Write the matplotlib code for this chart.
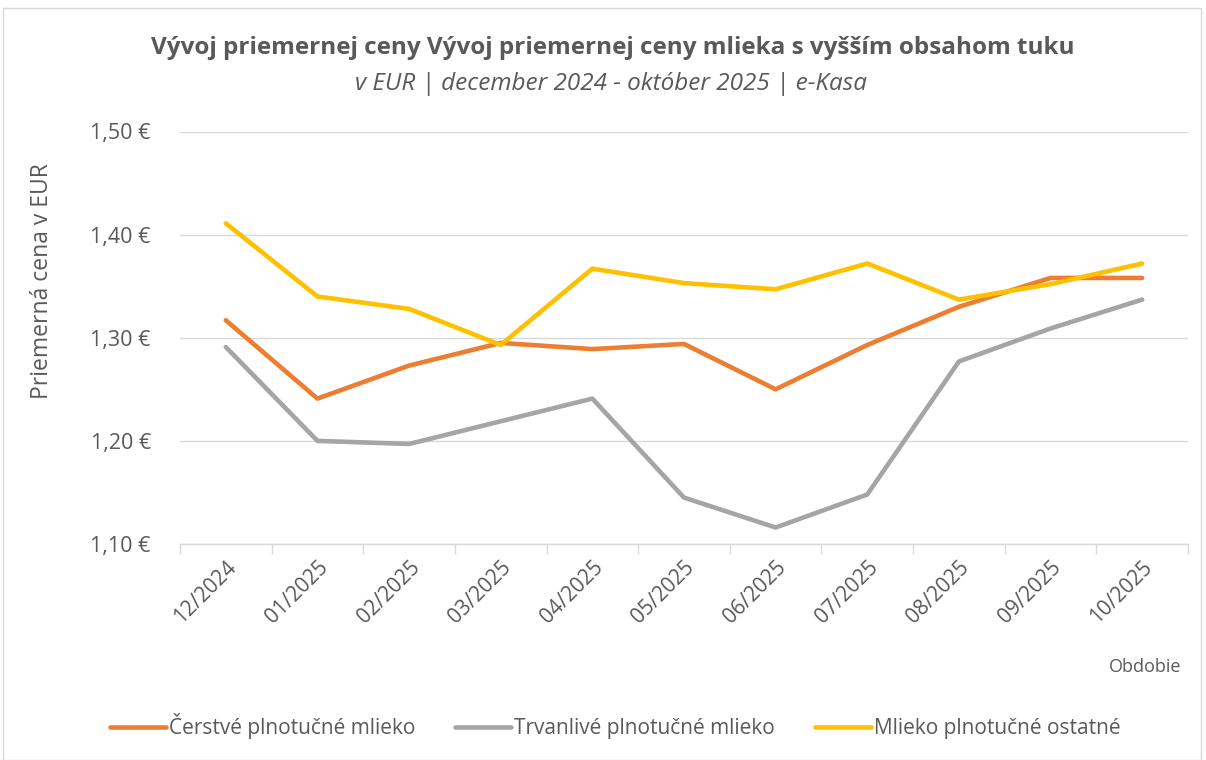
import matplotlib.pyplot as plt
from matplotlib.patches import Rectangle
from matplotlib.ticker import FuncFormatter

plt.rcParams['font.family'] = ['Open Sans', 'DejaVu Sans']

months = ['12/2024', '01/2025', '02/2025', '03/2025', '04/2025', '05/2025',
          '06/2025', '07/2025', '08/2025', '09/2025', '10/2025']
cerstve = [1.317, 1.241, 1.273, 1.295, 1.289, 1.294, 1.250, 1.293, 1.330, 1.358, 1.358]
trvanlive = [1.291, 1.200, 1.197, 1.219, 1.241, 1.145, 1.116, 1.148, 1.277, 1.309, 1.337]
ostatne = [1.411, 1.340, 1.328, 1.293, 1.367, 1.353, 1.347, 1.372, 1.337, 1.352, 1.372]

series_names = ['Čerstvé plnotučné mlieko', 'Trvanlivé plnotučné mlieko', 'Mlieko plnotučné ostatné']
colors = ['#ED7D31', '#A5A5A5', '#FFC000']
text_color = '#595959'

fig = plt.figure(figsize=(12.06, 7.6), dpi=100)
ax = fig.add_axes([180 / 1206, 1 - 544 / 760, 1008 / 1206, (544 - 131.5) / 760])

# outer chart border
fig.patches.append(Rectangle((3 / 1206, 0), 1198 / 1206, 1 - 8 / 760, transform=fig.transFigure,
                             fill=False, edgecolor='#D9D9D9', linewidth=1))

x = range(len(months))
lines = []
for vals, name, c in zip([cerstve, trvanlive, ostatne], series_names, colors):
    ln, = ax.plot(x, vals, color=c, linewidth=3.3, solid_capstyle='round', solid_joinstyle='round', label=name)
    lines.append(ln)

ax.set_xlim(-0.5, len(months) - 0.5)
ax.set_ylim(1.10, 1.50)
ax.set_yticks([1.10, 1.20, 1.30, 1.40, 1.50])
ax.yaxis.set_major_formatter(FuncFormatter(lambda v, p: f'{v:.2f}'.replace('.', ',') + ' €'))
ax.grid(axis='y', color='#D9D9D9', linewidth=1)
ax.set_axisbelow(True)

for s in ['top', 'right', 'left']:
    ax.spines[s].set_visible(False)
ax.spines['bottom'].set_color('#D9D9D9')
ax.spines['bottom'].set_linewidth(1)

ax.set_xticks(list(x))
ax.set_xticklabels(months, rotation=45, ha='right', rotation_mode='anchor', fontsize=15, color=text_color)
ax.tick_params(axis='x', length=0, pad=9)
ax.set_xticks([i - 0.5 for i in range(len(months) + 1)], minor=True)
ax.tick_params(axis='x', which='minor', length=7, color='#D9D9D9', width=1)
ax.tick_params(axis='y', length=0, pad=21, labelsize=15.5, labelcolor=text_color)

fig.text(613 / 1206, 1 - 48 / 760, 'Vývoj priemernej ceny Vývoj priemernej ceny mlieka s vyšším obsahom tuku',
         ha='center', va='center', fontsize=17.5, fontweight='bold', color=text_color)
fig.text(611 / 1206, 1 - 84 / 760, 'v EUR | december 2024 - október 2025 | e-Kasa',
         ha='center', va='center', fontsize=17.5, style='italic', color=text_color)
fig.text(42 / 1206, 1 - 281 / 760, 'Priemerná cena v EUR', rotation=90, ha='center', va='center',
         fontsize=16.5, color=text_color)
fig.text(1145 / 1206, 1 - 667 / 760, 'Obdobie', ha='center', va='center', fontsize=13, color=text_color)

fig.legend(handles=lines, labels=series_names, loc='center', bbox_to_anchor=(0.51, 1 - 726 / 760),
           ncol=3, frameon=False, fontsize=15, handlelength=2.7, handletextpad=0.15, columnspacing=1.9,
           labelcolor=text_color)

fig.savefig('out.png', dpi=100)
